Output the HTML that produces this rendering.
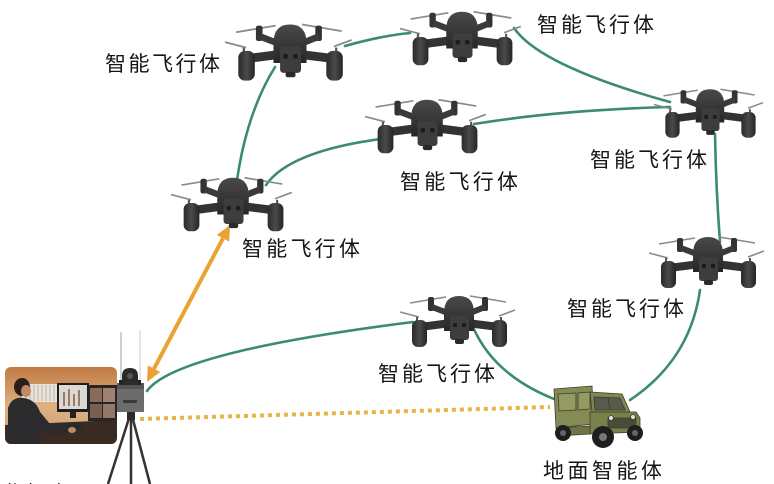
<!DOCTYPE html>
<html><head><meta charset="utf-8"><style>
html,body{margin:0;padding:0;background:#fff;}
svg{display:block;}
text{font-family:"Liberation Sans","Noto Sans CJK SC",sans-serif;font-size:21px;fill:#151515;}
</style></head><body>
<svg width="774" height="484" viewBox="0 0 774 484" xmlns="http://www.w3.org/2000/svg">
<defs>
<linearGradient id="dome" x1="0" y1="0" x2="0" y2="1">
<stop offset="0" stop-color="#4a4a4a"/><stop offset="1" stop-color="#262626"/></linearGradient>
<linearGradient id="pod" x1="0" y1="0" x2="1" y2="0">
<stop offset="0" stop-color="#2a2a2a"/><stop offset="0.5" stop-color="#4a4a4a"/><stop offset="1" stop-color="#252525"/></linearGradient>
<g id="dr">
 <line x1="-49" y1="-18" x2="-13" y2="-24" stroke="#8a8a8a" stroke-width="1.6"/>
 <line x1="11" y1="-25" x2="47" y2="-19" stroke="#8a8a8a" stroke-width="1.6"/>
 <line x1="-59" y1="-9" x2="-40" y2="-4" stroke="#8a8a8a" stroke-width="1.6"/>
 <line x1="40" y1="-5" x2="56" y2="-11" stroke="#8a8a8a" stroke-width="1.6"/>
 <rect x="-31" y="-24" width="6" height="14" rx="2" fill="#333"/>
 <rect x="23" y="-24" width="6" height="14" rx="2" fill="#333"/>
 <line x1="-27" y1="-14" x2="-6" y2="-6" stroke="#3a3a3a" stroke-width="6"/>
 <line x1="26" y1="-14" x2="6" y2="-6" stroke="#3a3a3a" stroke-width="6"/>
 <line x1="-8" y1="2" x2="-39" y2="6" stroke="#333" stroke-width="8"/>
 <line x1="8" y1="2" x2="40" y2="6" stroke="#333" stroke-width="8"/>
 <line x1="-42" y1="-4" x2="-42" y2="2" stroke="#555" stroke-width="2"/>
 <line x1="42" y1="-4" x2="42" y2="2" stroke="#555" stroke-width="2"/>
 <rect x="-47" y="-1" width="15" height="27" rx="6" fill="url(#pod)"/>
 <rect x="33" y="-1" width="15" height="27" rx="6" fill="url(#pod)"/>
 <path d="M-15,10 L-15,-8 Q-15,-25 0,-25 Q15,-25 15,-8 L15,10 Z" fill="url(#dome)"/>
 <rect x="-9" y="-5" width="19" height="24" rx="3" fill="#3d3d3d"/>
 <rect x="-6" y="2" width="4" height="4" fill="#1c1c1c"/>
 <rect x="3" y="2" width="4" height="4" fill="#1c1c1c"/>
 <rect x="-4" y="18" width="9" height="5" rx="2" fill="#2a2a2a"/>
</g>
<clipPath id="pc"><rect x="5" y="367" width="112" height="77" rx="6"/></clipPath>
<linearGradient id="wall" x1="0" y1="0" x2="0" y2="1">
<stop offset="0" stop-color="#c07a44"/><stop offset="0.5" stop-color="#dfb080"/><stop offset="1" stop-color="#c9a07c"/></linearGradient>
</defs>

<g fill="none" stroke="#3b8c6b" stroke-width="2.6" stroke-linecap="round">
 <path d="M275,67 Q247,112 237,180"/>
 <path d="M345,46 Q380,36 410,33"/>
 <path d="M514,28 Q540,66 670,102"/>
 <path d="M474,124 Q560,110 670,107"/>
 <path d="M266,185 Q290,150 388,138"/>
 <path d="M715,134 Q716,190 720,242"/>
 <path d="M700,290 Q690,360 630,400"/>
 <path d="M473,327 Q495,378 562,402"/>
 <path d="M147,391 Q175,352 413,322"/>
</g>

<line x1="140" y1="419" x2="550" y2="407" stroke="#e8b445" stroke-width="4" stroke-dasharray="4 4"/>

<line x1="154" y1="368.7" x2="223" y2="238.3" stroke="#eba234" stroke-width="4"/>
<polygon points="230,225 229.2,241.6 216.8,235" fill="#eba234"/>
<polygon points="147,382 160.2,372 147.8,365.4" fill="#eba234"/>

<use href="#dr" transform="translate(290,52) scale(1.1)"/>
<use href="#dr" transform="translate(462,38) scale(1.05)"/>
<use href="#dr" transform="translate(427,126) scale(1.05)"/>
<use href="#dr" transform="translate(710,113) scale(0.95)"/>
<use href="#dr" transform="translate(233,204) scale(1.05)"/>
<use href="#dr" transform="translate(708,262) scale(1.0)"/>
<use href="#dr" transform="translate(459,321) scale(1.0)"/>

<text x="105" y="71" textLength="115" lengthAdjust="spacing">智能飞行体</text>
<text x="537" y="32" textLength="117" lengthAdjust="spacing">智能飞行体</text>
<text x="400" y="189" textLength="118" lengthAdjust="spacing">智能飞行体</text>
<text x="590" y="167" textLength="117" lengthAdjust="spacing">智能飞行体</text>
<text x="242" y="256" textLength="118" lengthAdjust="spacing">智能飞行体</text>
<text x="567" y="316" textLength="117" lengthAdjust="spacing">智能飞行体</text>
<text x="378" y="381" textLength="117" lengthAdjust="spacing">智能飞行体</text>
<text x="543" y="478" textLength="119" lengthAdjust="spacing">地面智能体</text>
<text x="5" y="501" textLength="86" lengthAdjust="spacing">指挥中心</text>

<g clip-path="url(#pc)">
 <rect x="5" y="367" width="112" height="77" fill="url(#wall)"/>
 <rect x="22" y="384" width="36" height="18" fill="#e8e4dc"/>
 <g stroke="#b8b4ac" stroke-width="1">
  <line x1="26" y1="385" x2="26" y2="401"/><line x1="30" y1="385" x2="30" y2="401"/>
  <line x1="34" y1="385" x2="34" y2="401"/><line x1="38" y1="385" x2="38" y2="401"/>
  <line x1="42" y1="385" x2="42" y2="401"/><line x1="46" y1="385" x2="46" y2="401"/>
  <line x1="50" y1="385" x2="50" y2="401"/><line x1="54" y1="385" x2="54" y2="401"/>
 </g>
 <polygon points="5,425 117,420 117,444 5,444" fill="#3a2a22"/>
 <rect x="57" y="383" width="32" height="29" fill="#1e1e1e"/>
 <rect x="59" y="385" width="28" height="24" fill="#dcd8d2"/>
 <g fill="#9a7a6a"><rect x="63" y="392" width="2" height="14"/><rect x="68" y="389" width="2" height="17"/><rect x="73" y="394" width="2" height="12"/><rect x="78" y="390" width="2" height="16"/></g>
 <rect x="70" y="412" width="6" height="6" fill="#222"/>
 <rect x="88" y="385" width="29" height="36" fill="#262626"/>
 <rect x="90" y="388" width="12" height="14" fill="#8a6a58"/>
 <rect x="103" y="388" width="12" height="14" fill="#a08070"/>
 <rect x="90" y="404" width="12" height="14" fill="#7a5e50"/>
 <rect x="103" y="404" width="12" height="14" fill="#95786a"/>
 <polygon points="45,425 80,422 84,430 48,433" fill="#2a2a2a"/>
 <path d="M8,444 L8,408 Q12,396 24,398 Q36,400 40,412 L50,424 L72,426 L74,433 L50,434 L40,430 L40,444 Z" fill="#2b2b2d"/>
 <ellipse cx="22" cy="387" rx="8" ry="9" fill="#2a1e18"/>
 <ellipse cx="26" cy="391" rx="5" ry="6" fill="#c08a68"/>
 <ellipse cx="72" cy="430" rx="4" ry="3" fill="#c08a68"/>
</g>

<line x1="121" y1="332" x2="121" y2="385" stroke="#c4c4c4" stroke-width="1.6"/>
<line x1="140" y1="330" x2="140" y2="385" stroke="#d8d8d8" stroke-width="1.4"/>
<line x1="131" y1="412" x2="108" y2="484" stroke="#333" stroke-width="2.5"/>
<line x1="131" y1="412" x2="131" y2="484" stroke="#333" stroke-width="2.5"/>
<line x1="131" y1="412" x2="150" y2="484" stroke="#333" stroke-width="2.5"/>
<rect x="127" y="410" width="8" height="10" fill="#2a2a2a"/>
<rect x="117" y="383" width="27" height="29" fill="#6c6c6c"/>
<rect x="117" y="383" width="27" height="6" fill="#555"/>
<rect x="123" y="400" width="14" height="3" fill="#3a3a3a"/>
<path d="M122,385 L122,376 Q122,368 130,368 Q138,368 138,376 L138,385 Z" fill="#2a2a2a"/>
<circle cx="130" cy="376" r="3" fill="#555"/>
<rect x="119" y="380" width="3" height="5" fill="#222"/>
<rect x="138" y="380" width="3" height="5" fill="#222"/>

<g stroke="#3c3c2c" stroke-width="0.8">
 <polygon points="554,389 592,386 594,424 556,428" fill="#858b54"/>
 <polygon points="558,394 576,393 576,410 559,411" fill="#939a62"/>
 <polygon points="578,393 590,392 590,409 578,410" fill="#939a62"/>
 <polygon points="590,392 622,394 630,412 592,412" fill="#80864f"/>
 <polygon points="594,397 620,398 625,410 595,410" fill="#585a4c"/>
 <line x1="608" y1="397" x2="610" y2="410" stroke="#3c3c2c"/>
 <polygon points="590,412 636,412 640,418 640,432 590,434" fill="#7a804a"/>
 <rect x="608" y="418" width="28" height="10" fill="#4a4c3a"/>
 <circle cx="611" cy="418" r="2.5" fill="#ddd"/>
 <circle cx="633" cy="417" r="2.5" fill="#ddd"/>
 <polygon points="556,428 590,426 590,434 558,436" fill="#6e7445"/>
</g>
<circle cx="563" cy="433" r="8" fill="#1e1e1e"/>
<circle cx="563" cy="433" r="3" fill="#666"/>
<circle cx="603" cy="437" r="11" fill="#1e1e1e"/>
<circle cx="603" cy="437" r="4" fill="#777"/>
<circle cx="635" cy="433" r="8" fill="#1e1e1e"/>
<circle cx="635" cy="433" r="3" fill="#666"/>
</svg>
</body></html>
